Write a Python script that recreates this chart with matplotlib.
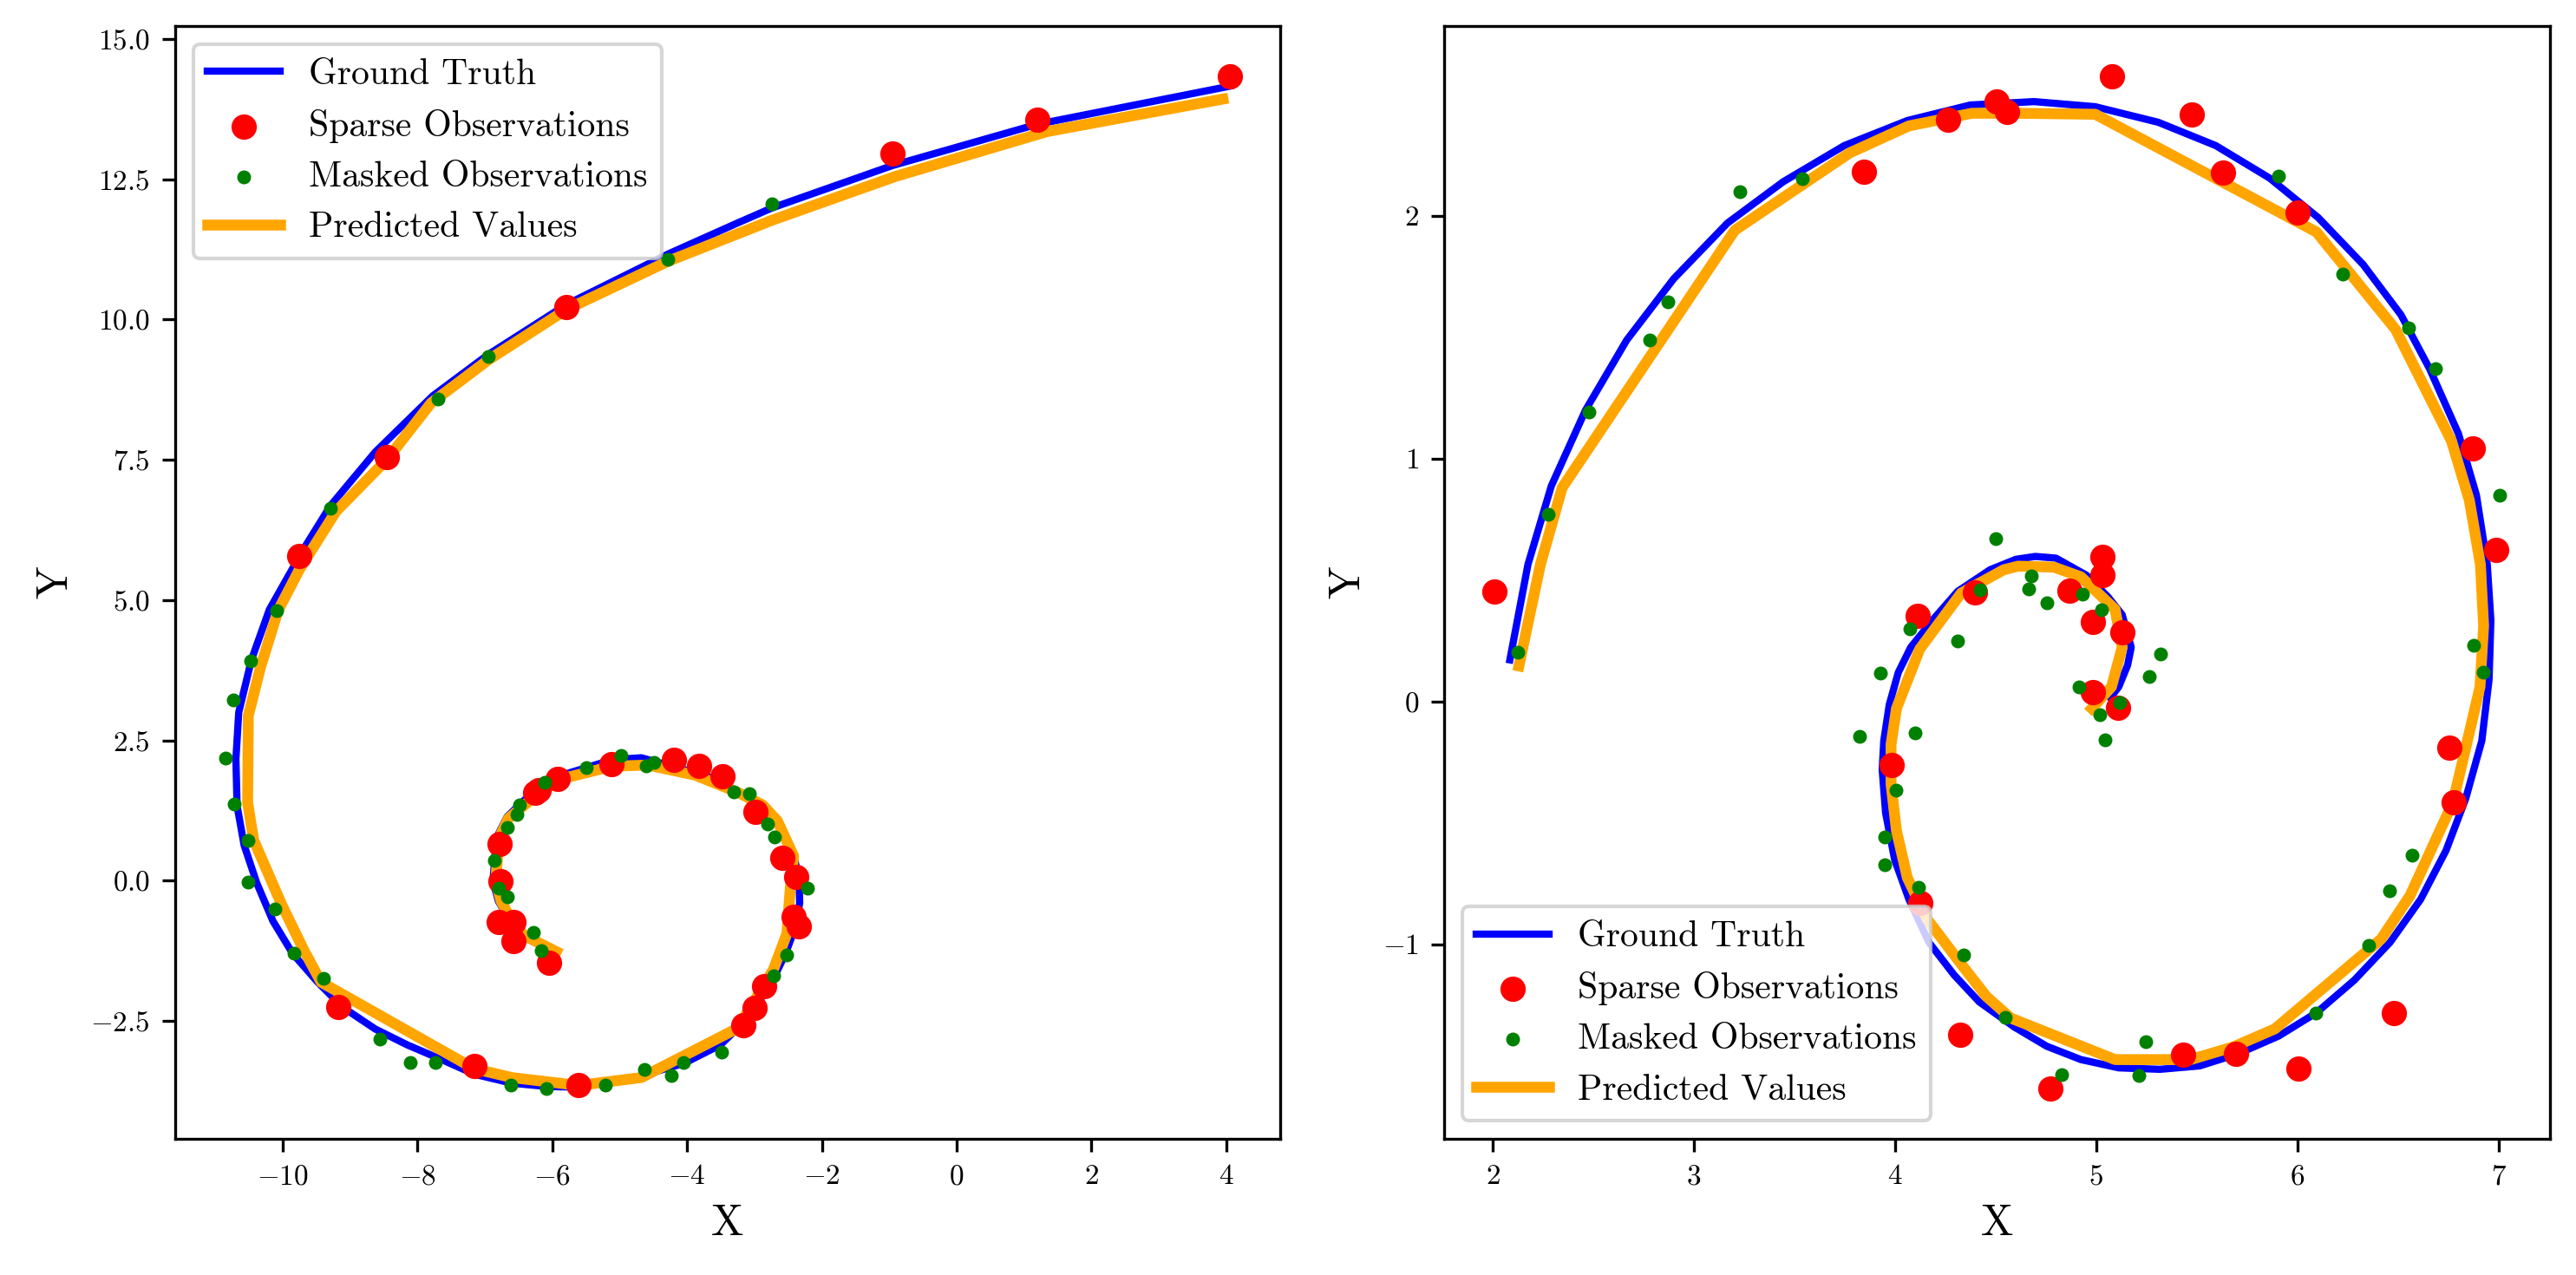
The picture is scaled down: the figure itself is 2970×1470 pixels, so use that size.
import matplotlib
matplotlib.use('Agg')
import matplotlib.pyplot as plt
from matplotlib.ticker import MultipleLocator

plt.rcParams['font.family'] = 'serif'
plt.rcParams['font.serif'] = ['cmr10']
plt.rcParams['mathtext.fontset'] = 'cm'
plt.rcParams['axes.formatter.use_mathtext'] = True

# ---- left panel: outer-to-inner spiral ----
gt1_x = [4.055, 1.194, -0.954, -2.739, -3.254, -4.278, -5.787, -6.953, -7.774, -8.626,
         -9.293, -9.69, -10.198, -10.465, -10.652, -10.694, -10.677, -10.572, -10.384, -10.145,
         -9.852, -9.48, -9.106, -8.626, -8.147, -7.64, -7.155, -6.60, -6.068, -5.589,
         -4.683, -4.044, -3.51, -3.18, -2.93, -2.72, -2.54, -2.40, -2.33, -2.34,
         -2.43, -2.62, -2.86, -3.10, -3.51, -3.88, -4.68, -5.11, -5.86, -6.28,
         -6.67, -6.83, -6.88, -6.80, -6.63, -6.42, -5.94]
gt1_y = [14.16, 13.48, 12.745, 11.99, 11.72, 11.17, 10.27, 9.375, 8.64, 7.64,
         6.68, 5.91, 4.83, 3.93, 3.00, 2.17, 1.335, 0.63, -0.045, -0.72,
         -1.30, -1.81, -2.26, -2.645, -2.93, -3.19, -3.45, -3.61, -3.67, -3.68,
         -3.48, -3.255, -2.93, -2.55, -2.15, -1.75, -1.30, -0.85, -0.40, 0.05,
         0.50, 0.95, 1.27, 1.46, 1.78, 1.925, 2.19, 2.155, 1.88, 1.59,
         1.14, 0.76, -0.01, -0.365, -0.72, -1.01, -1.285]

pred1_x = [3.95, 1.34, -0.91, -2.74, -4.28, -5.79, -6.95, -7.80, -8.45, -9.21,
           -9.75, -10.07, -10.33, -10.51, -10.52, -10.43, -10.01, -9.69, -9.43, -7.16,
           -6.60, -5.61, -4.68, -3.25, -2.72, -2.52, -2.47, -2.42, -2.66, -2.88,
           -3.26, -3.88, -4.58, -5.11, -5.86, -6.23, -6.65, -6.79, -6.84, -6.76,
           -6.60, -6.42, -5.94]
pred1_y = [13.93, 13.35, 12.55, 11.77, 11.04, 10.18, 9.28, 8.51, 7.51, 6.58,
           5.55, 4.81, 3.80, 2.94, 1.39, 0.72, -0.44, -1.23, -1.81, -3.35,
           -3.51, -3.65, -3.51, -2.63, -1.585, -0.945, -0.14, 0.44, 1.065, 1.35,
           1.58, 1.88, 2.06, 2.04, 1.815, 1.53, 1.11, 0.76, -0.01, -0.365,
           -0.72, -0.975, -1.265]

sparse1_x = [4.05, 1.19, -0.95, -5.79, -8.45, -9.75, -9.17, -7.15, -5.61, -3.17,
             -3.00, -2.86, -2.34, -2.42, -2.38, -2.59, -2.99, -3.48, -3.82, -4.20,
             -5.12, -5.92, -6.25, -6.20, -6.78, -6.77, -6.79, -6.58, -6.58, -6.05]
sparse1_y = [14.33, 13.56, 12.96, 10.23, 7.55, 5.78, -2.25, -3.30, -3.65, -2.58,
             -2.26, -1.875, -0.81, -0.64, 0.06, 0.40, 1.22, 1.855, 2.04, 2.15,
             2.07, 1.81, 1.565, 1.62, 0.66, -0.01, -0.73, -0.73, -1.07, -1.46]

masked1_x = [-2.74, -4.28, -6.95, -7.69, -9.29, -10.09, -10.48, -10.73, -10.85, -10.72,
             -10.52, -10.51, -10.11, -9.83, -9.39, -8.56, -8.11, -7.74, -6.62, -6.09,
             -5.21, -4.63, -4.23, -4.05, -3.49, -2.71, -2.52, -2.21, -2.70, -2.80,
             -3.08, -3.31, -4.49, -4.61, -4.98, -5.50, -6.11, -6.49, -6.53, -6.67,
             -6.86, -6.80, -6.67, -6.28, -6.16]
masked1_y = [12.07, 11.08, 9.34, 8.59, 6.63, 4.81, 3.91, 3.215, 2.19, 1.37,
             0.72, -0.03, -0.50, -1.29, -1.74, -2.82, -3.24, -3.24, -3.64, -3.70,
             -3.64, -3.36, -3.48, -3.24, -3.06, -1.69, -1.33, -0.135, 0.78, 1.01,
             1.546, 1.58, 2.105, 2.04, 2.23, 2.02, 1.745, 1.35, 1.175, 0.95,
             0.365, -0.135, -0.295, -0.92, -1.245]

# ---- right panel: inner-to-outer spiral ----
gt2_x = [2.085, 2.175, 2.291, 2.461, 2.666, 2.899, 3.167, 3.444, 3.748, 4.061,
         4.374, 4.691, 4.995, 5.308, 5.594, 5.862, 6.104, 6.327, 6.515, 6.658,
         6.801, 6.89, 6.944, 6.962, 6.953, 6.917, 6.837, 6.739, 6.613, 6.461,
         6.283, 6.095, 5.907, 5.702, 5.514, 5.317, 5.112, 4.924, 4.754, 4.593,
         4.418, 4.293, 4.168, 4.069, 3.998, 3.953, 3.936, 3.944, 3.971, 4.016,
         4.078, 4.194, 4.311, 4.472, 4.60, 4.697, 4.80, 4.951, 5.058, 5.129,
         5.174, 5.156, 5.112, 5.07]
gt2_y = [0.171, 0.564, 0.887, 1.199, 1.488, 1.740, 1.970, 2.140, 2.289, 2.392,
         2.456, 2.47, 2.449, 2.385, 2.289, 2.155, 1.992, 1.799, 1.592, 1.369,
         1.102, 0.85, 0.564, 0.334, 0.09, -0.162, -0.40, -0.614, -0.815, -0.992,
         -1.148, -1.282, -1.378, -1.452, -1.501, -1.515, -1.509, -1.475, -1.42, -1.341,
         -1.237, -1.126, -0.992, -0.815, -0.652, -0.459, -0.281, -0.162, -0.014, 0.119,
         0.223, 0.342, 0.453, 0.542, 0.585, 0.597, 0.59, 0.52, 0.431, 0.357,
         0.223, 0.149, 0.06, 0.015]

pred2_x = [2.130, 2.237, 2.345, 3.203, 3.775, 4.069, 4.382, 4.593, 4.995, 6.095,
           6.488, 6.766, 6.855, 6.91, 6.926, 6.908, 6.774, 6.56, 6.417, 5.889,
           5.684, 5.469, 5.094, 4.575, 4.454, 4.329, 4.159, 4.061, 4.007, 3.98,
           3.98, 4.007, 4.123, 4.329, 4.54, 4.611, 4.79, 4.924, 5.094, 5.129,
           5.076, 4.978]
pred2_y = [0.146, 0.564, 0.88, 1.940, 2.259, 2.37, 2.422, 2.422, 2.418, 1.933,
           1.532, 1.073, 0.828, 0.564, 0.312, 0.06, -0.414, -0.80, -0.978, -1.348,
           -1.422, -1.475, -1.475, -1.304, -1.215, -1.082, -0.896, -0.726, -0.533, -0.34,
           -0.177, -0.029, 0.216, 0.446, 0.542, 0.557, 0.553, 0.513, 0.379, 0.223,
           0.06, -0.029]

sparse2_x = [2.008, 3.846, 4.263, 4.504, 4.557, 5.079, 5.476, 5.63, 6.002, 6.873,
             6.989, 6.756, 6.778, 6.479, 6.006, 5.696, 5.433, 4.772, 4.325, 4.127,
             3.984, 4.114, 4.397, 4.867, 5.031, 5.031, 4.983, 5.129, 4.983, 5.108]
sparse2_y = [0.453, 2.180, 2.395, 2.47, 2.427, 2.573, 2.416, 2.176, 2.013, 1.043,
             0.625, -0.192, -0.414, -1.285, -1.511, -1.452, -1.455, -1.593, -1.371, -0.829,
             -0.261, 0.354, 0.449, 0.456, 0.594, 0.52, 0.327, 0.283, 0.038, -0.026]

masked2_x = [2.126, 2.276, 2.479, 2.782, 2.872, 3.229, 3.537, 5.907, 6.226, 6.551,
             6.685, 7.006, 6.878, 6.925, 6.572, 6.46, 6.356, 6.093, 5.248, 5.213,
             4.829, 4.549, 4.339, 4.118, 3.95, 3.95, 4.005, 3.825, 4.10, 3.928,
             4.075, 4.311, 4.423, 4.502, 4.679, 4.665, 4.756, 4.933, 5.028, 5.321,
             5.265, 4.915, 5.117, 5.019, 5.042]
masked2_y = [0.202, 0.772, 1.191, 1.488, 1.647, 2.099, 2.152, 2.162, 1.759, 1.54,
             1.372, 0.85, 0.231, 0.121, -0.634, -0.778, -1.006, -1.282, -1.40, -1.541,
             -1.536, -1.301, -1.043, -0.767, -0.674, -0.56, -0.367, -0.144, -0.129, 0.117,
             0.298, 0.249, 0.461, 0.67, 0.517, 0.463, 0.405, 0.443, 0.378, 0.195,
             0.102, 0.06, -0.005, -0.054, -0.159]

fig = plt.figure(figsize=(9.9, 4.9), dpi=300)
ax1 = fig.add_axes([0.0680, 0.1068, 0.4290, 0.8728])
ax2 = fig.add_axes([0.5606, 0.1068, 0.4293, 0.8728])

panels = [
    (ax1, gt1_x, gt1_y, pred1_x, pred1_y, sparse1_x, sparse1_y, masked1_x, masked1_y, 'upper left'),
    (ax2, gt2_x, gt2_y, pred2_x, pred2_y, sparse2_x, sparse2_y, masked2_x, masked2_y, 'lower left'),
]

for ax, gx, gy, px, py, sx, sy, mx, my, loc in panels:
    ax.plot(gx, gy, color='blue', lw=2, label='Ground Truth', zorder=2)
    ax.scatter(sx, sy, color='red', s=36, label='Sparse Observations', zorder=4)
    ax.scatter(mx, my, color='green', s=8, label='Masked Observations', zorder=5)
    ax.plot(px, py, color='orange', lw=3, label='Predicted Values', zorder=3)
    ax.set_xlabel('X', fontsize=12)
    ax.set_ylabel('Y', fontsize=12)
    ax.tick_params(labelsize=8)
    ax.legend(loc=loc, fontsize=10)

ax1.xaxis.set_major_locator(MultipleLocator(2))
ax1.yaxis.set_major_locator(MultipleLocator(2.5))
ax2.xaxis.set_major_locator(MultipleLocator(1))
ax2.yaxis.set_major_locator(MultipleLocator(1))

fig.savefig('out.png', dpi=300)
